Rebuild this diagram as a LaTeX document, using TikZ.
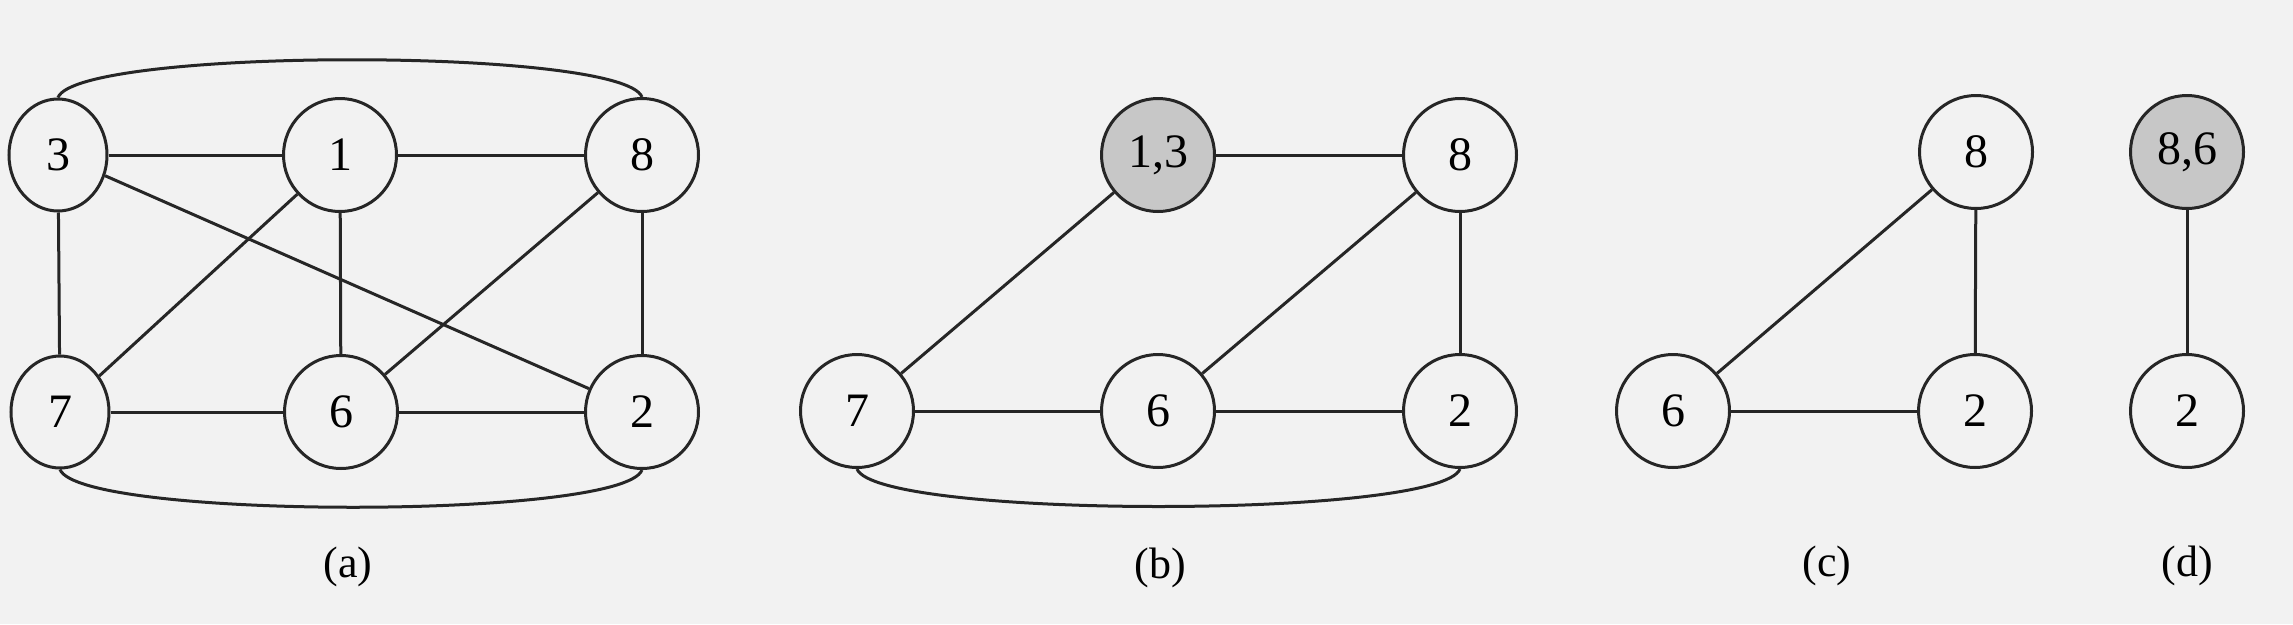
\documentclass[tikz,border=0pt]{standalone}
\usepackage{fontspec}
\setmainfont{Liberation Serif}
\usetikzlibrary{shapes.geometric}
\tikzstyle{vertex} = [circle, draw=black!85, line width=3pt, minimum size=113pt, inner sep=0pt, font=\fontsize{48}{52}\selectfont]
\tikzstyle{narrow} = [ellipse, minimum width=98pt, minimum height=112pt]
\tikzstyle{merged} = [fill=black!22]
\tikzstyle{edge} = [draw=black!85, line width=3pt]
\tikzstyle{caption} = [font=\fontsize{44}{48}\selectfont]

\begin{document}
\begin{tikzpicture}[x=1pt, y=-1pt]
    \useasboundingbox (0,0) rectangle (2293,624);
    \fill [black!5] (0,0) rectangle (2293,624);

    % (a)
    \node (a3) [vertex, narrow] at (58,155) {3};
    \node (a1) [vertex] at (340,155) {1};
    \node (a8) [vertex] at (642,155) {8};
    \node (a7) [vertex, narrow] at (60,412) {7};
    \node (a6) [vertex] at (341,412) {6};
    \node (a2) [vertex] at (642,412) {2};
    \node (capa) [caption] at (348,567) {(a)};

    \draw [edge] (a3) -- (a1);
    \draw [edge] (a1) -- (a8);
    \draw [edge] (a3) -- (a7);
    \draw [edge] (a3) -- (a2);
    \draw [edge] (a1) -- (a7);
    \draw [edge] (a1) -- (a6);
    \draw [edge] (a8) -- (a6);
    \draw [edge] (a8) -- (a2);
    \draw [edge] (a7) -- (a6);
    \draw [edge] (a6) -- (a2);
    \draw [edge] (a3.north) .. controls +(20,-50) and +(-20,-50) .. (a8.north);
    \draw [edge] (a7.south) .. controls +(20,50) and +(-20,50) .. (a2.south);

    % (b)
    \node (b13) [vertex, merged] at (1158,155) {1,3};
    \node (b8) [vertex] at (1460,155) {8};
    \node (b7) [vertex] at (857,411) {7};
    \node (b6) [vertex] at (1158,411) {6};
    \node (b2) [vertex] at (1460,411) {2};
    \node (capb) [caption] at (1160,568) {(b)};

    \draw [edge] (b13) -- (b8);
    \draw [edge] (b13) -- (b7);
    \draw [edge] (b8) -- (b6);
    \draw [edge] (b8) -- (b2);
    \draw [edge] (b7) -- (b6);
    \draw [edge] (b6) -- (b2);
    \draw [edge] (b7.south) .. controls +(20,50) and +(-20,50) .. (b2.south);

    % (c)
    \node (c8) [vertex] at (1976,152) {8};
    \node (c6) [vertex] at (1673,411) {6};
    \node (c2) [vertex] at (1975,411) {2};
    \node (capc) [caption] at (1827,566) {(c)};

    \draw [edge] (c8) -- (c6);
    \draw [edge] (c8) -- (c2);
    \draw [edge] (c6) -- (c2);

    % (d)
    \node (d86) [vertex, merged] at (2187,152) {8,6};
    \node (d2) [vertex] at (2187,411) {2};
    \node (capd) [caption] at (2187,566) {(d)};

    \draw [edge] (d86) -- (d2);
\end{tikzpicture}
\end{document}
